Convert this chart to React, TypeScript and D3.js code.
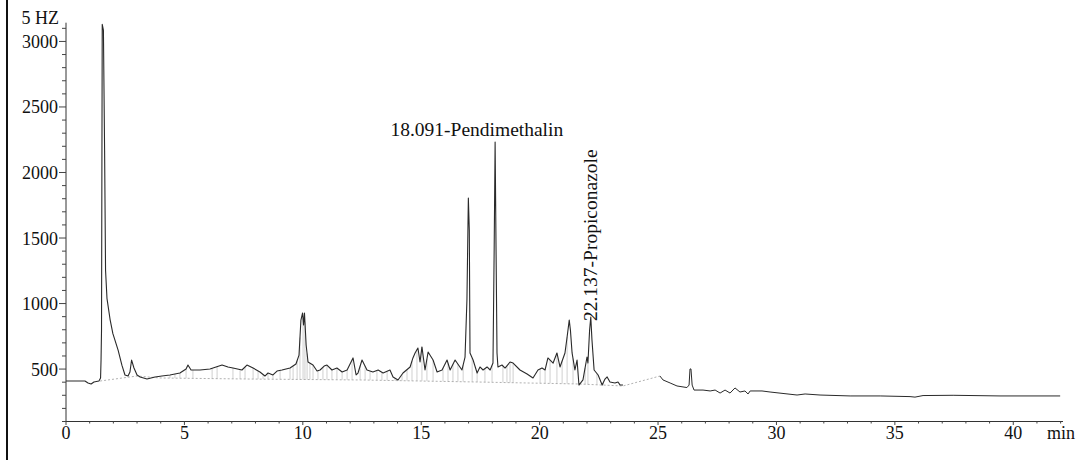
import React from 'react';
import * as d3 from 'd3';

// Chromatogram signal (time in min, detector response in Hz)
const signalTimesA = [
  0, 0.8, 0.93, 1.06, 1.18, 1.39, 1.46, 1.48, 1.5, 1.53, 1.58, 1.63, 1.67, 1.73, 1.86, 1.98,
  2.2, 2.36, 2.49, 2.62, 2.7, 2.77, 2.87, 3.0, 3.13, 3.42, 3.76, 4.05, 4.39, 4.81, 5.07, 5.15,
  5.28, 5.66, 6.08, 6.59, 6.84, 7.05, 7.43, 7.64, 7.9, 8.19, 8.4, 8.53, 8.74, 8.91, 9.12, 9.46,
  9.71, 9.84, 9.92, 9.99, 10.03, 10.07, 10.14, 10.22, 10.43, 10.6, 10.73, 10.9, 11.02, 11.23,
  11.44, 11.66, 11.87, 12.12, 12.25, 12.33, 12.5, 12.71, 12.96, 13.18, 13.39, 13.68, 13.81,
  14.02, 14.23, 14.53, 14.65, 14.74, 14.86, 14.95, 15.03, 15.16, 15.29, 15.5, 15.67, 15.88,
  16.09, 16.22, 16.43, 16.72, 16.85, 16.93, 16.99, 17.03, 17.06, 17.19, 17.36, 17.48, 17.61,
  17.78, 17.91, 18.03, 18.08, 18.12, 18.16, 18.2, 18.24, 18.41, 18.54, 18.75, 18.88, 19.17,
  19.47, 19.72, 19.93, 20.1, 20.23, 20.35, 20.57, 20.73, 20.86, 21.07, 21.16, 21.25, 21.3,
  21.37, 21.49, 21.58, 21.66, 21.83, 22.0, 22.04, 22.11, 22.16, 22.21, 22.3, 22.47, 22.64,
  22.76, 22.85, 22.97, 23.18, 23.31, 23.4, 23.52,
];
const signalValuesA = [
  409, 409, 394, 386, 401, 409, 432, 569, 798, 3130, 3087, 2170, 1254, 1040, 880, 770,
  645, 530, 455, 447, 478, 569, 508, 455, 440, 424, 440, 447, 455, 470, 501, 531,
  493, 493, 501, 531, 516, 508, 493, 531, 508, 478, 447, 470, 455, 485, 493, 508,
  539, 607, 874, 928, 836, 928, 684, 554, 531, 485, 493, 523, 531, 493,
  508, 478, 493, 585, 455, 470, 569, 493, 478, 493, 470, 493, 440,
  417, 470, 516, 585, 623, 661, 554, 669, 493, 630, 569, 478, 493,
  569, 493, 569, 493, 592, 1027, 1805, 1561, 623, 569, 470, 516, 493,
  516, 493, 546, 1408, 2232, 1408, 623, 516, 531, 508, 554, 546, 493,
  462, 432, 493, 508, 493, 585, 546, 623, 516, 623, 745, 874, 798,
  623, 493, 569, 378, 417, 592, 546, 798, 897, 722, 493, 455, 378,
  424, 440, 401, 394, 401, 378, 378,
];
const signalTimesB = [
  25.08, 25.21, 25.51, 25.8, 26.22, 26.31, 26.35, 26.39, 26.44, 26.52, 26.9, 27.2, 27.41,
  27.62, 27.83, 28.04, 28.25, 28.46, 28.67, 28.8, 28.89, 29.39, 29.73, 30.87, 31.21, 31.84,
  33.11, 34.38, 35.64, 35.85, 36.19, 37.46, 39.44, 41.98,
];
const signalValuesB = [
  447, 417, 394, 371, 359, 378, 501, 501, 378, 340, 340, 333, 340,
  317, 340, 317, 356, 325, 333, 310, 333, 333, 325, 302, 310, 302,
  295, 295, 290, 286, 298, 300, 295, 295,
];

// Integration baseline (dotted)
const baselineTimes = [1.44, 3.0, 3.97, 7.77, 12.42, 17.48, 21.71, 23.52, 25.08];
const baselineValues = [409, 447, 432, 424, 417, 401, 386, 371, 447];

// Peak drop lines (integration marks)
const dropTimes = [
  4.39, 4.6, 4.81, 5.07, 5.36, 6.17, 6.38, 7.05, 7.35, 7.56, 7.9, 8.11, 8.32, 8.53, 8.74,
  9.04, 9.46, 9.59, 9.76, 9.88, 10.01, 10.09, 10.18, 10.3, 10.43, 10.64, 10.85, 11.02, 11.23,
  11.44, 11.66, 11.87, 12.08, 12.42, 12.63, 12.84, 13.13, 13.34, 13.56, 13.89, 14.19, 14.4,
  14.61, 14.82, 15.03, 15.24, 15.5, 15.92, 16.13, 16.34, 16.55, 16.77, 17.15, 17.36, 17.69,
  17.99, 18.45, 18.62, 18.75, 18.88, 20.02, 20.23, 20.44, 20.73, 20.95, 21.16, 21.41, 21.71,
  21.92, 22.04, 22.42, 22.68,
];

const xTickLabels = [0, 5, 10, 15, 20, 25, 30, 35, 40];
const yTickLabels = [500, 1000, 1500, 2000, 2500, 3000];
const yUnitLabel = '5 HZ';
const xUnitLabel = 'min';
const peakLabels = [
  { time: 18.091, text: '18.091-Pendimethalin', rotate: false },
  { time: 22.137, text: '22.137-Propiconazole', rotate: true },
];

const W = 1087;
const H = 460;
const FONT = '"Liberation Serif", "Times New Roman", Times, "DejaVu Serif", serif';
const textStyle = { fontFamily: FONT };

export default function App() {
  const x = d3.scaleLinear().domain([0, 42.1]).range([66, 1063]);
  const y = d3.scaleLinear().domain([100, 3143]).range([421.5, 22.7]);

  const segA = signalTimesA.map((t, i) => [t, signalValuesA[i]] as [number, number]);
  const segB = signalTimesB.map((t, i) => [t, signalValuesB[i]] as [number, number]);
  const base = baselineTimes.map((t, i) => [t, baselineValues[i]] as [number, number]);

  const line = d3
    .line<[number, number]>()
    .x((d) => x(d[0]))
    .y((d) => y(d[1]));

  const interp = (pts: [number, number][], t: number) => {
    const i = d3.bisector((d: [number, number]) => d[0]).left(pts, t);
    if (i <= 0) return pts[0][1];
    if (i >= pts.length) return pts[pts.length - 1][1];
    const a = pts[i - 1];
    const b = pts[i];
    const f = (t - a[0]) / (b[0] - a[0]);
    return a[1] + f * (b[1] - a[1]);
  };

  const yMinor = d3.range(100, 3101, 100);
  const xMinor = d3.range(0, 43, 1);

  return (
    <svg
      width={W}
      height={H}
      style={{ position: 'absolute', left: 0, top: 0, background: '#fff', fontFamily: FONT }}
    >
      <rect x={0} y={0} width={W} height={H} fill="#fff" />
      {/* left frame line */}
      <line x1={7} y1={0} x2={7} y2={H} stroke="#111" strokeWidth={2} />

      {/* drop lines */}
      <g stroke="#c4c4c4" strokeWidth={0.8}>
        {dropTimes.map((t, i) => (
          <line
            key={i}
            x1={x(t)}
            x2={x(t)}
            y1={y(interp(segA, t))}
            y2={y(interp(base, t))}
          />
        ))}
      </g>

      {/* baseline */}
      <path
        d={line(base) || ''}
        fill="none"
        stroke="#a8a8a8"
        strokeWidth={0.9}
        strokeDasharray="2,2"
      />

      {/* signal */}
      <path d={line(segA) || ''} fill="none" stroke="#2a2a2a" strokeWidth={1.1} strokeLinejoin="round" />
      <path d={line(segB) || ''} fill="none" stroke="#2a2a2a" strokeWidth={1} strokeLinejoin="round" />

      {/* y axis */}
      <line x1={66} x2={66} y1={y(3143)} y2={y(100)} stroke="#333" strokeWidth={1} />
      {yMinor.map((v) => (
        <line
          key={v}
          x1={yTickLabels.includes(v) ? 59 : 62}
          x2={66}
          y1={y(v)}
          y2={y(v)}
          stroke="#444"
          strokeWidth={1}
        />
      ))}
      {yTickLabels.map((v) => (
        <text key={v} x={58} y={y(v) + 6.5} textAnchor="end" fontSize={18} fill="#111" style={textStyle}>
          {v}
        </text>
      ))}
      <text x={59} y={24} textAnchor="end" fontSize={18} fill="#111" style={textStyle}>
        {yUnitLabel}
      </text>

      {/* x axis */}
      <line x1={66} x2={1063} y1={421.5} y2={421.5} stroke="#333" strokeWidth={1} />
      {xMinor.map((t) => (
        <line
          key={t}
          x1={x(t)}
          x2={x(t)}
          y1={421.5}
          y2={xTickLabels.includes(t) ? 425 : 423.5}
          stroke="#444"
          strokeWidth={1}
        />
      ))}
      {xTickLabels.map((t) => (
        <text key={t} x={x(t)} y={439} textAnchor="middle" fontSize={18} fill="#111" style={textStyle}>
          {t}
        </text>
      ))}
      <text x={1047} y={439} fontSize={18} fill="#111" style={textStyle}>
        {xUnitLabel}
      </text>

      {/* peak labels */}
      {peakLabels.map((p) =>
        p.rotate ? (
          <text
            key={p.text}
            transform={`translate(${x(p.time) + 7},${y(interp(segA, p.time)) - 2}) rotate(-90)`}
            fontSize={19.5}
            fill="#111"
            style={textStyle}
          >
            {p.text}
          </text>
        ) : (
          <text key={p.text} x={x(p.time) - 104} y={136} fontSize={19.5} fill="#111" style={textStyle}>
            {p.text}
          </text>
        )
      )}
    </svg>
  );
}
